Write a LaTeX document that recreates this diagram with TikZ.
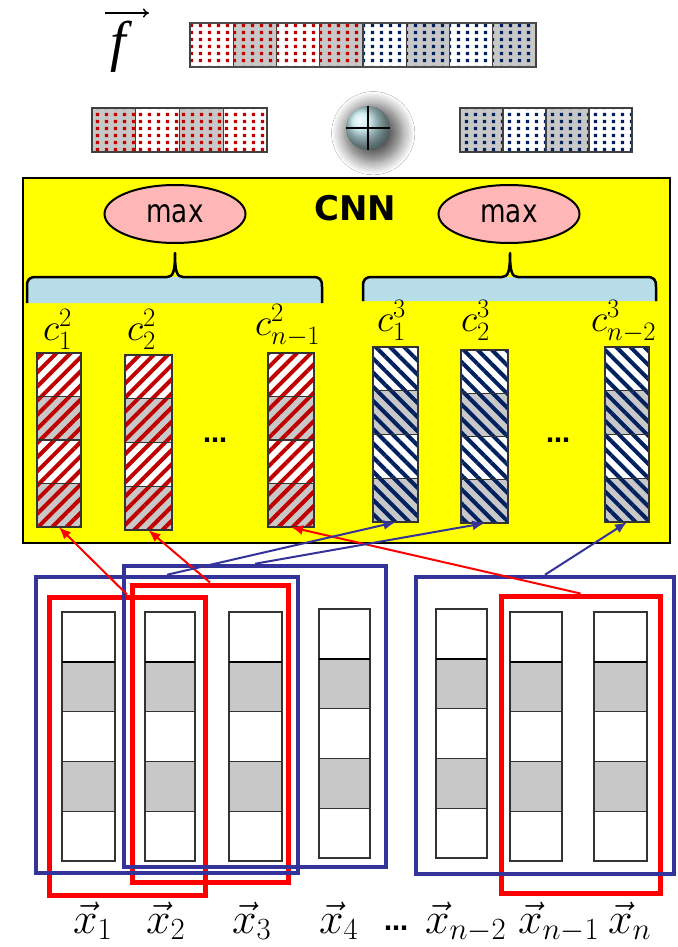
\RequirePackage{fix-cm}
\documentclass[tikz,border=0pt]{standalone}
\usepackage{fontspec}
\newfontfamily\dvs{DejaVu Sans}
\newfontfamily\lsr{Liberation Serif}
\usetikzlibrary{patterns.meta,arrows.meta,shapes.geometric,shadows.blur,fit}
\definecolor{cellgray}{RGB}{200,200,200}
\definecolor{dred}{RGB}{192,0,0}
\definecolor{dnavy}{RGB}{0,32,96}
\definecolor{boxblue}{RGB}{51,51,153}
\definecolor{boxred}{RGB}{255,0,0}
\definecolor{bracefill}{RGB}{183,222,232}
\definecolor{maxpink}{RGB}{255,182,182}
\definecolor{cnnyellow}{RGB}{255,255,0}
\definecolor{balltone}{RGB}{170,222,228}
\tikzdeclarepattern{
  name=SqDots,
  type=uncolored,
  bottom left={(0pt,0pt)},
  top right={(8.6pt,6.8pt)},
  tile size={(8.6pt,6.8pt)},
  code={\pgfpathrectangle{\pgfpoint{1pt}{1pt}}{\pgfpoint{3.2pt}{3.2pt}}\pgfusepathqfill}
}
\tikzset{
  cellborder/.style={draw=black!80,line width=1.2pt},
  barborder/.style={draw=black!75,line width=1.4pt},
  bluebox/.style={draw=boxblue,line width=4.5pt},
  redbox/.style={draw=boxred,line width=5pt},
  redarrow/.style={draw=boxred,line width=2pt,-{Latex[length=12pt,width=10pt]}},
  bluearrow/.style={draw=boxblue,line width=2pt,-{Latex[length=12pt,width=10pt]}},
  maxnode/.style={ellipse,draw=black,line width=2pt,fill=maxpink,minimum width=141pt,minimum height=58pt,inner sep=0pt,font=\dvs\fontsize{32}{34}\selectfont},
  bracepath/.style={draw=black,line width=2.5pt,line join=round},
  clabel/.style={anchor=base west,inner sep=0pt,font=\fontsize{38}{40}\selectfont},
  xlabel/.style={anchor=base west,inner sep=0pt,font=\fontsize{44}{48}\selectfont},
  dotsnode/.style={inner sep=0pt,font=\dvs\bfseries\fontsize{24}{26}\selectfont}
}
% dotted cell: x0,y0,x1,y1,fill,pattern colour
\newcommand\dotcell[6]{%
  \path[fill=#5,postaction={pattern=SqDots,pattern color=#6}] ({#1},{#2}) rectangle ({#3},{#4});
  \draw[barborder] ({#1},{#2}) rectangle ({#3},{#4});
}
% hatched column: name,x0,y0,x1,y1,angle,colour
\newcommand\hatchcol[7]{%
  \pgfmathsetmacro\hh{(#5-#3)/4}%
  \foreach \i in {0,1,2,3}{%
    \pgfmathsetmacro\ya{#3+\i*\hh}%
    \pgfmathsetmacro\yb{#3+(\i+1)*\hh}%
    \ifodd\i\relax\def\cf{cellgray}\else\def\cf{white}\fi
    \path[fill=\cf,postaction={pattern={Lines[angle=#6,distance=10pt,line width=4pt]},pattern color=#7}] (#2,\ya) rectangle (#4,\yb);
    \draw[cellborder] (#2,\ya) rectangle (#4,\yb);
  }%
  \coordinate (#1-a) at (#2,#3);
  \coordinate (#1-b) at (#4,#5);
  \node[fit=(#1-a)(#1-b),inner sep=0pt] (#1) {};
}
% input column: name,x0,y0,x1
\newcommand\incol[4]{%
  \foreach \i in {0,...,4}{%
    \pgfmathsetmacro\ya{#3+\i*49.8}%
    \pgfmathsetmacro\yb{#3+(\i+1)*49.8}%
    \ifodd\i\relax\def\cf{cellgray}\else\def\cf{white}\fi
    \draw[cellborder,fill=\cf] (#2,\ya) rectangle (#4,\yb);
  }%
  \draw[black,line width=2.6pt] (#2,#3+49.8) -- (#4,#3+49.8);
  \coordinate (#1-a) at (#2,#3);
  \coordinate (#1-b) at (#4,#3+249);
  \node[fit=(#1-a)(#1-b),inner sep=0pt] (#1) {};
}
% frame node: style,name,x0,y0,x1,y1
\newcommand\framenode[6]{%
  \coordinate (#2-a) at (#3,#4);
  \coordinate (#2-b) at (#5,#6);
  \node[#1,fit=(#2-a)(#2-b),inner sep=0pt] (#2) {};
}
% brace: x0,xm,x1,ytop,ytip,ybot
\newcommand\bracefig[6]{%
  \fill[bracefill] (#1,#6) -- (#1,#4+10) .. controls (#1,#4+2) and (#1+2,#4) .. (#1+10,#4) -- (#3-10,#4) .. controls (#3-2,#4) and (#3,#4+2) .. (#3,#4+10) -- (#3,#6) -- cycle;
  \draw[bracepath] (#1,#6) -- (#1,#4+10) .. controls (#1,#4+2) and (#1+2,#4) .. (#1+10,#4) -- (#2-8,#4) .. controls (#2-2,#4) and (#2,#4-5) .. (#2,#5) .. controls (#2,#4-5) and (#2+2,#4) .. (#2+8,#4) -- (#3-10,#4) .. controls (#3-2,#4) and (#3,#4+2) .. (#3,#4+10) -- (#3,#6);
}
\begin{document}
\begin{tikzpicture}[x=1pt,y=-1pt]
\useasboundingbox[fill=white] (0,0) rectangle (677,947);
% ---- f vector
\node[inner sep=0pt,font=\lsr\itshape\fontsize{56}{60}\selectfont] (fsym) at (118,47) {f};
\coordinate (farrowa) at (105,13);
\coordinate (farrowb) at (149,13);
\draw[line width=1.4pt,-{To[length=6pt,width=9pt]}] (farrowa) -- (farrowb);
% ---- concatenated vector
\foreach \k/\fc/\pc in {0/white/dred,1/cellgray/dred,2/white/dred,3/cellgray/dred,4/white/dnavy,5/cellgray/dnavy,6/white/dnavy,7/cellgray/dnavy}{
  \pgfmathsetmacro\xa{190+\k*43.25}
  \pgfmathsetmacro\xb{190+(\k+1)*43.25}
  \dotcell{\xa}{23}{\xb}{67}{\fc}{\pc}
}
\draw[black!70,line width=2pt] (190,23) -- (536,23) (190,67) -- (536,67);
% ---- pooled vectors
\foreach \k/\fc in {0/cellgray,1/white,2/cellgray,3/white}{
  \pgfmathsetmacro\xa{92+\k*43.75}
  \pgfmathsetmacro\xb{92+(\k+1)*43.75}
  \pgfmathsetmacro\xc{460+\k*43}
  \pgfmathsetmacro\xd{460+(\k+1)*43}
  \dotcell{\xa}{108}{\xb}{152}{\fc}{dred}
  \dotcell{\xc}{108}{\xd}{152}{\fc}{dnavy}
}
% ---- oplus
\node[circle,minimum size=44pt,inner sep=0pt,shading=ball,ball color=balltone!75!white,
  blur shadow={shadow xshift=4pt,shadow yshift=-4pt,shadow scale=1.3,shadow blur radius=10pt,shadow blur steps=12,shadow opacity=65}] (oplus) at (368,128) {};
\draw[black,line width=1.6pt] (oplus.north) -- (oplus.south) (oplus.west) -- (oplus.east);
% ---- CNN box
\framenode{draw=black,line width=2.6pt,fill=cnnyellow}{cnn}{23}{178}{670}{543}
\node[inner sep=0pt,font=\dvs\bfseries\fontsize{34}{36}\selectfont] (cnnlabel) at (355,208) {CNN};
\node[maxnode] (max1) at (175,214) {\scalebox{0.82}[1]{max}};
\node[maxnode] (max2) at (509,214) {\scalebox{0.82}[1]{max}};
\bracefig{27}{175}{322}{277}{253}{303}
\bracefig{363}{510}{656}{277}{253}{301}
% ---- feature map columns
\hatchcol{c12}{37}{353}{81}{527}{45}{dred}
\hatchcol{c22}{125}{355}{172}{530}{45}{dred}
\hatchcol{c2n}{268}{353}{314}{527}{45}{dred}
\hatchcol{c13}{373}{347}{418}{522}{-45}{dnavy}
\hatchcol{c23}{461}{350}{508}{523}{-45}{dnavy}
\hatchcol{c3n}{605}{347}{649}{522}{-45}{dnavy}
\node[clabel] (lc12) at (43,340) {$c_1^2$};
\node[clabel] (lc22) at (127,340) {$c_2^2$};
\node[clabel] (lc2n) at (255,335) {$c_{n-1}^2$};
\node[clabel] (lc13) at (377,331) {$c_1^3$};
\node[clabel] (lc23) at (461,331) {$c_2^3$};
\node[clabel] (lc3n) at (591,331) {$c_{n-2}^3$};
\node[dotsnode] (dots1) at (215,440) {\char"2026};
\node[dotsnode] (dots2) at (558,440) {\char"2026};
% ---- input columns
\incol{x1}{62}{612}{115}
\incol{x2}{145}{612}{195}
\incol{x3}{229}{612}{282}
\incol{x4}{319}{609}{370}
\incol{xn2}{436}{609}{487}
\incol{xn1}{510}{612}{562}
\incol{xn}{594}{612}{647}
% ---- windows
\framenode{redbox}{redA}{49}{597}{205}{895}
\framenode{redbox}{redB}{132}{585}{288}{882}
\framenode{redbox}{redC}{501}{596}{660}{893}
\framenode{bluebox}{blueA}{36}{577}{298}{873}
\framenode{bluebox}{blueB}{124}{566}{386}{867}
\framenode{bluebox}{blueC}{416}{577}{674}{874}
% ---- labels
\node[xlabel] (lx1) at (73,933) {$\vec{x}_1$};
\node[xlabel] (lx2) at (146,933) {$\vec{x}_2$};
\node[xlabel] (lx3) at (232,933) {$\vec{x}_3$};
\node[xlabel] (lx4) at (319,933) {$\vec{x}_4$};
\node[xlabel] (lxn2) at (425,933) {$\vec{x}_{n-2}$};
\node[xlabel] (lxn1) at (518,933) {$\vec{x}_{n-1}$};
\node[xlabel] (lxn) at (608,933) {$\vec{x}_n$};
\node[dotsnode] (dots3) at (396,928) {\char"2026};
% ---- arrows
\draw[redarrow] (redA.north) -- (c12.south);
\draw[redarrow] (redB.north) -- (c22.south);
\draw[redarrow] (redC.north) -- (c2n.south);
\draw[bluearrow] (blueA.north) -- (c13.south);
\draw[bluearrow] (blueB.north) -- (c23.south);
\draw[bluearrow] (blueC.north) -- (c3n.south);
\end{tikzpicture}
\end{document}
